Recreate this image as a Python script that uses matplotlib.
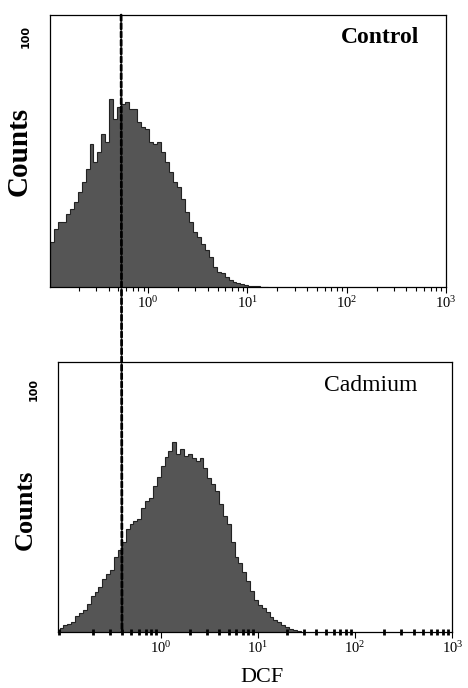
import numpy as np
import matplotlib
matplotlib.use("Agg")
from matplotlib import pyplot as plt
from matplotlib.patches import ConnectionPatch

plt.rcParams['font.family'] = ['Liberation Serif', 'DejaVu Serif']

# histogram heights (counts), log10 bin width 0.04
bin_width = 0.04
control_start = -0.99
control_counts = [18, 23, 26, 26, 29, 31, 34, 38, 42, 47, 57, 50, 54, 61, 58,
                  75, 67, 72, 73, 74, 71, 71, 66, 64, 63, 58, 57, 58, 54, 50,
                  46, 42, 40, 35, 30, 26, 22, 20, 17, 15, 12, 8, 6, 5.6, 4,
                  2.8, 2, 1.6, 1.2, 0.8, 0.6, 0.4, 0.4, 0.2, 0.2]

cadmium_start = -1.04
cadmium_counts = [1.7, 2.9, 3.3, 4.1, 6.6, 7.8, 9.1, 11.6, 14.9, 16.5, 18.6,
                  21.9, 24, 25.6, 31, 33.9, 37.2, 42.5, 44.6, 45.8, 46.7,
                  51.2, 54.1, 55.3, 60.3, 64, 68.6, 72.3, 74.8, 78.5, 73.5,
                  75.6, 72.7, 73.5, 71.9, 70.6, 71.9, 67.7, 63.6, 61.1, 58.2,
                  52.9, 47.9, 44.6, 37.2, 31, 28.5, 24.8, 21.1, 16.9, 13.2,
                  11.2, 9.9, 8.3, 6.2, 5, 4.1, 2.9, 2.1, 1.2, 0.8, 0.4]

# marker gate (DCF value where the dashed line crosses each panel)
gate_control = 0.535
gate_cadmium = 0.40

fig = plt.figure(figsize=(4.68, 6.88), dpi=100)
ax1 = fig.add_axes([0.1068, 0.5828, 0.8462, 0.3953])
ax2 = fig.add_axes([0.1246, 0.0814, 0.8419, 0.392])

panels = [
    (ax1, control_start, control_counts, "Control", "bold", 108.7, (0.833, 0.919), -0.988),
    (ax2, cadmium_start, cadmium_counts, "Cadmium", "normal", 111.4, (0.794, 0.913), -1.053),
]

for ax, start, counts, name, weight, ytop, txy, xleft in panels:
    edges = 10 ** (start + bin_width * np.arange(len(counts) + 1))
    ax.stairs(counts, edges, fill=True, facecolor='#555555', edgecolor='#222222', linewidth=0.8)
    ax.set_xscale('log')
    ax.set_xlim(10 ** xleft, 1000)
    ax.set_ylim(0, ytop)
    ax.set_yticks([100])
    ax.set_yticklabels(['100'], rotation=90, va='center', fontsize=8,
                       fontweight='bold', family='DejaVu Sans')
    ax.tick_params(axis='y', length=0, pad=14)
    ax.set_xticks([1, 10, 100, 1000])
    ax.tick_params(axis='x', which='major', direction='out', length=4, labelsize=10.5, pad=2)
    ax.text(txy[0], txy[1], name, transform=ax.transAxes, ha='center', va='center',
            fontsize=17, fontweight=weight)
    for s in ax.spines.values():
        s.set_linewidth(0.9)

ax1.tick_params(axis='x', which='minor', direction='out', length=3, width=0.8)
ax2.tick_params(axis='x', which='minor', direction='inout', length=4, width=2)

ax1.set_ylabel('Counts', fontsize=21, fontweight='bold')
ax1.yaxis.set_label_coords(-0.043, 0.5)
ax2.set_ylabel('Counts', fontsize=19, fontweight='bold')
ax2.yaxis.set_label_coords(-0.054, 0.453)

ax2.set_xlabel('DCF', fontsize=16)
ax2.xaxis.set_label_coords(0.517, -0.132)

# dashed gate line running through both panels
con = ConnectionPatch(xyA=(gate_control, 1), coordsA=ax1.get_xaxis_transform(),
                      xyB=(gate_cadmium, 0), coordsB=ax2.get_xaxis_transform(),
                      color='black', linewidth=2, linestyle=(0, (2, 1)), zorder=5)
fig.add_artist(con)

fig.savefig('out.png', dpi=100)
